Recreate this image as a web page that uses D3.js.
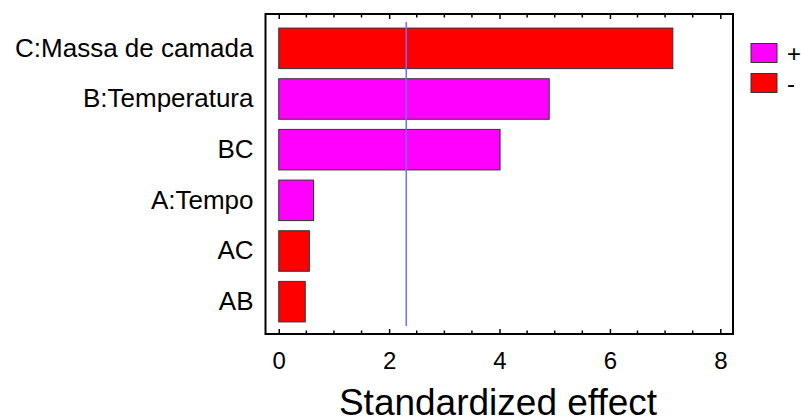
<!DOCTYPE html>
<html>
<head>
<meta charset="utf-8">
<script src="https://cdn.jsdelivr.net/npm/d3@7"></script>
<style>
  html, body { margin: 0; padding: 0; background: #fff; }
  text { font-family: "Liberation Sans", Arial, sans-serif; fill: #000; }
</style>
</head>
<body>
<div id="chart"></div>
<script>
// effects, top to bottom
const labels  = ['C:Massa de camada', 'B:Temperatura', 'BC', 'A:Tempo', 'AC', 'AB'];
const effects = [7.14, 4.90, 4.01, 0.63, 0.555, 0.48];
const signs   = ['-', '+', '+', '+', '-', '-'];
const xTicks  = [0, 2, 4, 6, 8];
const critical = 2.31;
const legendKeys = ['+', '-'];

const width = 801, height = 419;
const box = { left: 265.5, right: 733, top: 14, bottom: 334 };

const colorOf = d3.scaleOrdinal().domain(['+', '-']).range(['#ff00ff', '#ff0000']);

const svg = d3.select('#chart').append('svg')
  .attr('width', width).attr('height', height);

const x = d3.scaleLinear()
  .domain([-0.24, 8.23])
  .range([box.left, box.right]);

const y = d3.scaleBand()
  .domain(labels)
  .range([23, 327])
  .paddingInner(0.2)
  .paddingOuter(0.1);

// minor ticks every 0.5
const minor = d3.range(0, 8.01, 0.5).filter(v => v % 2 !== 0);

// bottom axis (inward ticks)
const bottomAxis = svg.append('g').attr('transform', `translate(0,${box.bottom})`);
bottomAxis.call(d3.axisBottom(x).tickValues(xTicks).tickSize(-5).tickPadding(18).tickFormat(d3.format('d')))
  .call(g => g.select('.domain').remove())
  .call(g => g.selectAll('.tick line').attr('stroke', '#000').attr('stroke-width', 1.5))
  .call(g => g.selectAll('.tick text')
    .style('font-size', '24px')
    .style('font-family', '"Liberation Sans", Arial, sans-serif'));
bottomAxis.selectAll('.minor').data(minor).join('line')
  .attr('x1', d => x(d)).attr('x2', d => x(d))
  .attr('y1', 0).attr('y2', -3.5)
  .attr('stroke', '#000').attr('stroke-width', 1.5);

// top axis (inward ticks, no labels)
const topAxis = svg.append('g').attr('transform', `translate(0,${box.top})`);
topAxis.call(d3.axisTop(x).tickValues(xTicks).tickSize(-5).tickFormat(''))
  .call(g => g.select('.domain').remove())
  .call(g => g.selectAll('.tick line').attr('stroke', '#000').attr('stroke-width', 1.5));
topAxis.selectAll('.minor').data(minor).join('line')
  .attr('x1', d => x(d)).attr('x2', d => x(d))
  .attr('y1', 0).attr('y2', 3.5)
  .attr('stroke', '#000').attr('stroke-width', 1.5);

// category labels
svg.append('g')
  .attr('transform', `translate(${box.left},0)`)
  .call(d3.axisLeft(y).tickSize(0).tickPadding(12))
  .call(g => g.select('.domain').remove())
  .call(g => g.selectAll('.tick text')
    .style('font-size', '26px')
    .style('font-family', '"Liberation Sans", Arial, sans-serif'));

// bars
svg.append('g').selectAll('rect')
  .data(labels)
  .join('rect')
  .attr('x', x(0))
  .attr('y', d => y(d))
  .attr('width', (d, i) => x(effects[i]) - x(0))
  .attr('height', y.bandwidth())
  .attr('fill', (d, i) => colorOf(signs[i]))
  .attr('stroke', '#333')
  .attr('stroke-width', 1);

// critical line
svg.append('line')
  .attr('x1', x(critical)).attr('x2', x(critical))
  .attr('y1', 22).attr('y2', 326)
  .attr('stroke', '#6f6fff')
  .attr('stroke-width', 1.5);

// frame
svg.append('rect')
  .attr('x', box.left).attr('y', box.top)
  .attr('width', box.right - box.left)
  .attr('height', box.bottom - box.top)
  .attr('fill', 'none')
  .attr('stroke', '#000')
  .attr('stroke-width', 2);

// x title
svg.append('text')
  .attr('x', 498)
  .attr('y', 415)
  .attr('text-anchor', 'middle')
  .style('font-size', '37px')
  .text('Standardized effect');

// legend
const legend = svg.append('g').selectAll('g')
  .data(legendKeys)
  .join('g')
  .attr('transform', (d, i) => `translate(751,${43.5 + i * 30})`);
legend.append('rect')
  .attr('width', 26).attr('height', 19)
  .attr('fill', d => colorOf(d))
  .attr('stroke', '#333')
  .attr('stroke-width', 1);
legend.append('text')
  .attr('x', 36).attr('y', 18)
  .style('font-size', '24px')
  .text(d => d);
</script>
</body>
</html>
